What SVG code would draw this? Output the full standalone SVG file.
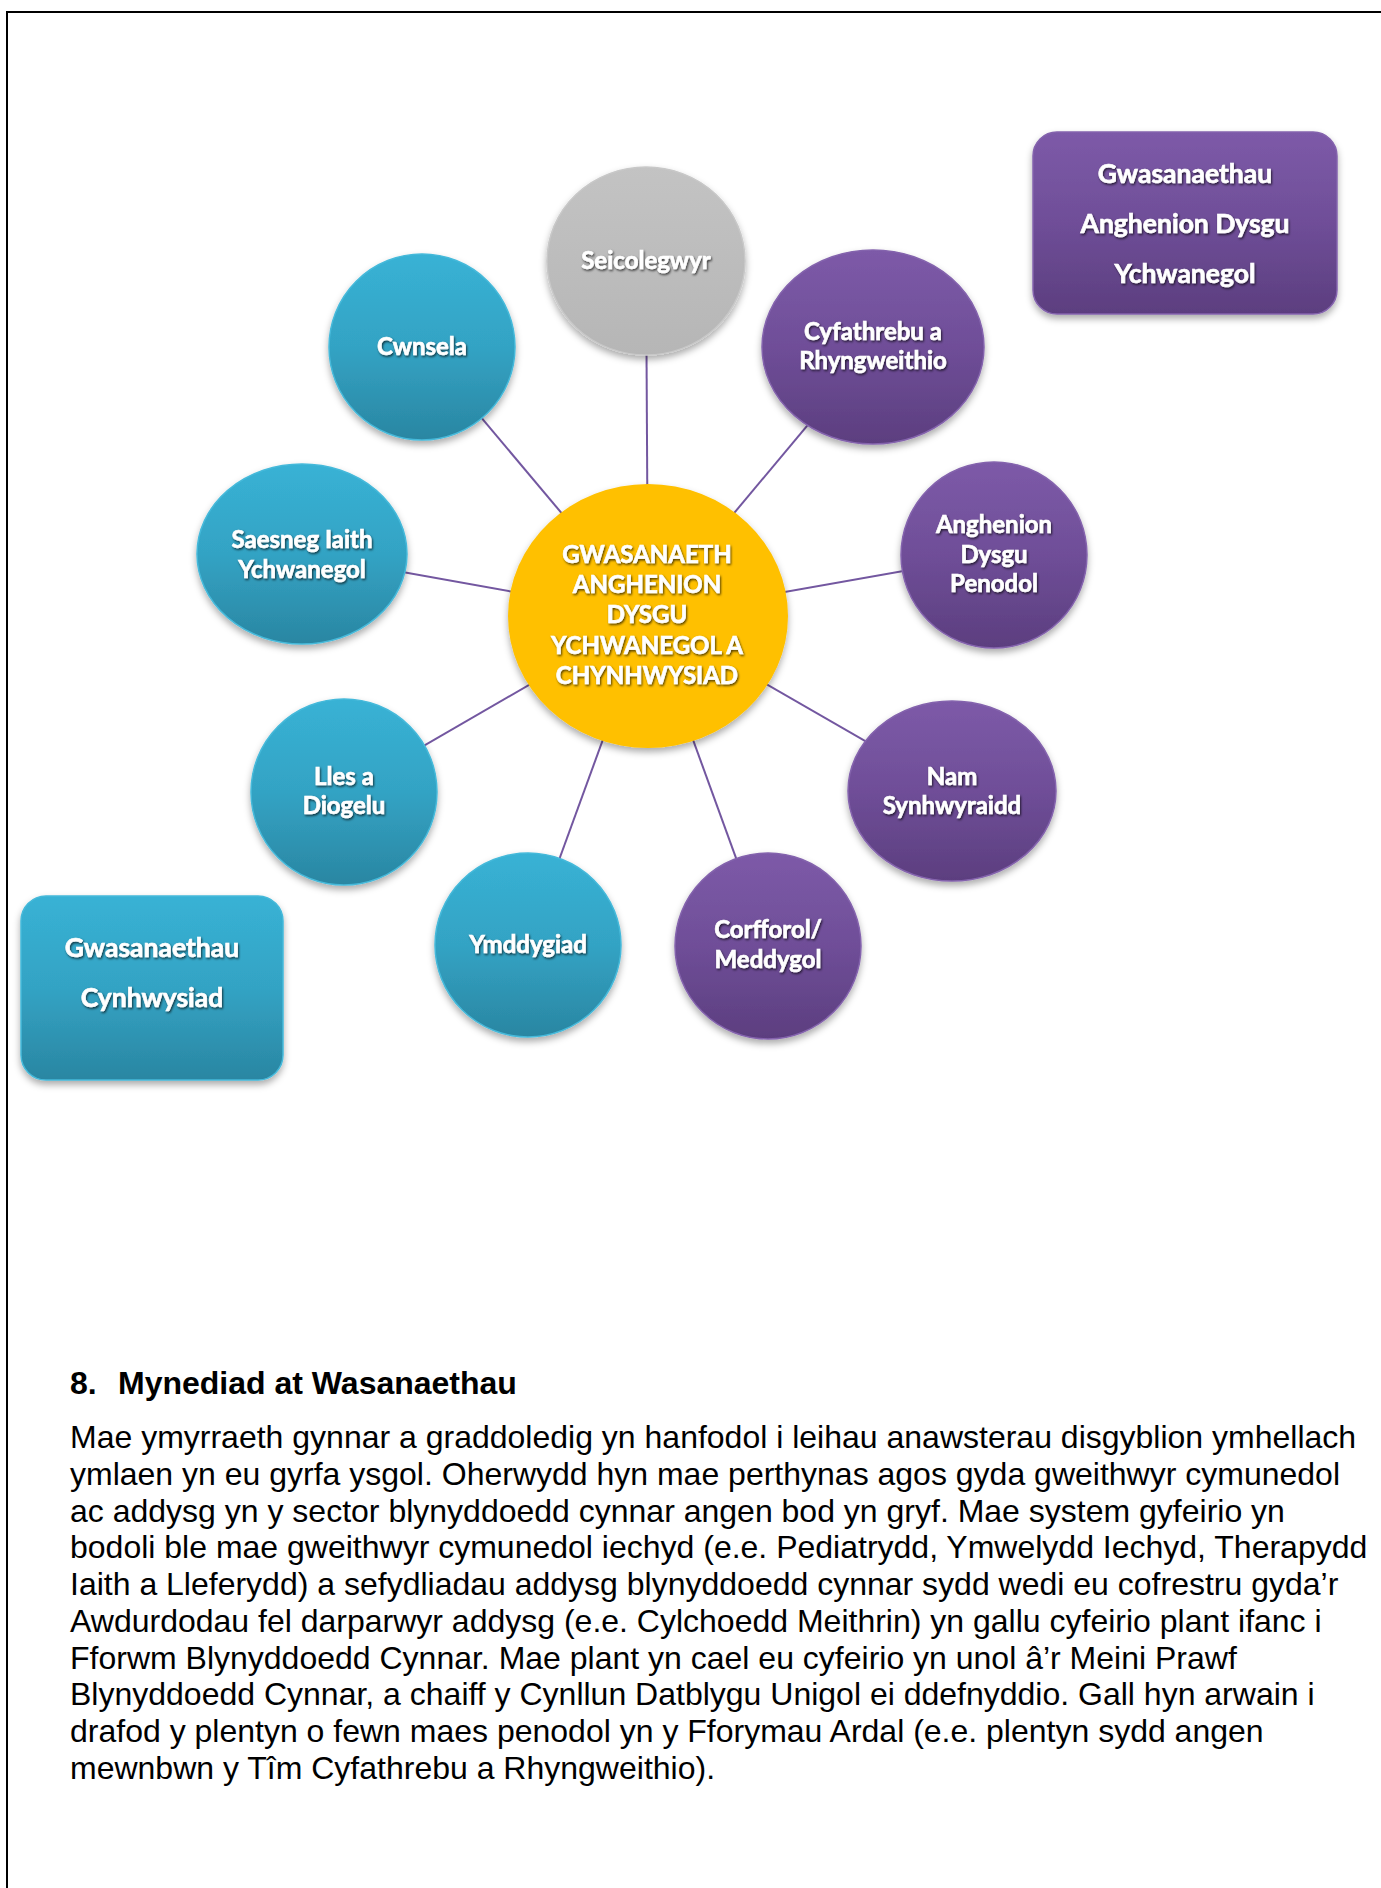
<svg xmlns="http://www.w3.org/2000/svg" width="1381" height="1888" viewBox="0 0 1381 1888">
<defs>
<linearGradient id="gCyan" x1="0" y1="0" x2="0" y2="1">
<stop offset="0" stop-color="#38b2d5"/><stop offset="0.5" stop-color="#33a3c4"/><stop offset="1" stop-color="#2a86a2"/>
</linearGradient>
<linearGradient id="gPurple" x1="0" y1="0" x2="0" y2="1">
<stop offset="0" stop-color="#7d5aa8"/><stop offset="0.5" stop-color="#6f4e98"/><stop offset="1" stop-color="#5c3e7f"/>
</linearGradient>
<linearGradient id="gGray" x1="0" y1="0" x2="0" y2="1">
<stop offset="0" stop-color="#c3c3c3"/><stop offset="1" stop-color="#b6b6b6"/>
</linearGradient>
<filter id="shShape" x="-20%" y="-20%" width="140%" height="150%">
<feDropShadow dx="0" dy="4" stdDeviation="3.5" flood-color="#000" flood-opacity="0.33"/>
</filter>
<filter id="shText" x="-10%" y="-30%" width="120%" height="160%">
<feDropShadow dx="1" dy="1.5" stdDeviation="1" flood-color="#000" flood-opacity="0.7"/>
</filter>
</defs>
<style>
.lbl{font-family:Lato,"Open Sans","DejaVu Sans",sans-serif;font-weight:bold;font-size:24px;fill:#fff;stroke:#fff;stroke-width:0.6;text-anchor:middle;filter:url(#shText)}
.box{font-size:26.5px}
.cyan{fill:url(#gCyan);stroke:#45b9da;stroke-width:1.5;filter:url(#shShape)}
.purple{fill:url(#gPurple);stroke:#8463ad;stroke-width:1.5;filter:url(#shShape)}
.gray{fill:url(#gGray);stroke:#c8c8c8;stroke-width:1.5;filter:url(#shShape)}
.gold{fill:#ffc000;filter:url(#shShape)}
.conn line{stroke:#7357a0;stroke-width:2}
.body{font-family:"Liberation Sans",Arial,sans-serif;font-size:32px;fill:#000}
</style>
<rect width="1381" height="1888" fill="#fff"/>
<g id="page-border" stroke="#000" stroke-width="2" fill="none">
<line x1="7" y1="12" x2="1381" y2="12"/>
<line x1="7" y1="11" x2="7" y2="1888"/>
</g>
<g id="connectors" class="conn">
<line x1="648" y1="616" x2="646" y2="261"/>
<line x1="648" y1="616" x2="422" y2="347"/>
<line x1="648" y1="616" x2="873" y2="347"/>
<line x1="648" y1="616" x2="994" y2="555"/>
<line x1="648" y1="616" x2="302" y2="554"/>
<line x1="648" y1="616" x2="344" y2="792"/>
<line x1="648" y1="616" x2="952" y2="791"/>
<line x1="648" y1="616" x2="528" y2="945"/>
<line x1="648" y1="616" x2="768" y2="946"/>
</g>
<g id="box-anghenion">
<rect class="purple" x="1033" y="132" width="304" height="182" rx="24"/>
<text class="lbl box" x="1185" y="183">Gwasanaethau</text>
<text class="lbl box" x="1185" y="233">Anghenion Dysgu</text>
<text class="lbl box" x="1185" y="283">Ychwanegol</text>
</g>
<g id="box-cynhwysiad">
<rect class="cyan" x="21" y="896" width="262" height="184" rx="25"/>
<text class="lbl box" x="152" y="957">Gwasanaethau</text>
<text class="lbl box" x="152" y="1007">Cynhwysiad</text>
</g>
<g id="node-seicolegwyr">
<ellipse class="gray" cx="646" cy="261" rx="99" ry="94"/>
<text class="lbl" x="646" y="269">Seicolegwyr</text>
</g>
<g id="node-cwnsela">
<ellipse class="cyan" cx="422" cy="347" rx="93" ry="93"/>
<text class="lbl" x="422" y="355">Cwnsela</text>
</g>
<g id="node-cyfathrebu">
<ellipse class="purple" cx="873" cy="347" rx="111" ry="97"/>
<text class="lbl" x="873" y="340">Cyfathrebu a</text>
<text class="lbl" x="873" y="369">Rhyngweithio</text>
</g>
<g id="node-penodol">
<ellipse class="purple" cx="994" cy="555" rx="93" ry="93"/>
<text class="lbl" x="994" y="533">Anghenion</text>
<text class="lbl" x="994" y="563">Dysgu</text>
<text class="lbl" x="994" y="592">Penodol</text>
</g>
<g id="node-saesneg">
<ellipse class="cyan" cx="302" cy="554" rx="105" ry="90"/>
<text class="lbl" x="302" y="548">Saesneg Iaith</text>
<text class="lbl" x="302" y="578">Ychwanegol</text>
</g>
<g id="node-lles">
<ellipse class="cyan" cx="344" cy="792" rx="93" ry="93"/>
<text class="lbl" x="344" y="785">Lles a</text>
<text class="lbl" x="344" y="814">Diogelu</text>
</g>
<g id="node-nam">
<ellipse class="purple" cx="952" cy="791" rx="104" ry="90"/>
<text class="lbl" x="952" y="785">Nam</text>
<text class="lbl" x="952" y="814">Synhwyraidd</text>
</g>
<g id="node-ymddygiad">
<ellipse class="cyan" cx="528" cy="945" rx="93" ry="92"/>
<text class="lbl" x="528" y="953">Ymddygiad</text>
</g>
<g id="node-corfforol">
<ellipse class="purple" cx="768" cy="946" rx="93" ry="93"/>
<text class="lbl" x="768" y="938">Corfforol/</text>
<text class="lbl" x="768" y="968">Meddygol</text>
</g>
<g id="node-center">
<ellipse class="gold" cx="648" cy="616" rx="140" ry="132"/>
<text class="lbl" x="647" y="563">GWASANAETH</text>
<text class="lbl" x="647" y="593">ANGHENION</text>
<text class="lbl" x="647" y="623">DYSGU</text>
<text class="lbl" x="647" y="654">YCHWANEGOL A</text>
<text class="lbl" x="647" y="684">CHYNHWYSIAD</text>
</g>
<g id="section-text" class="body">
<text x="70" y="1394" font-weight="bold">8.</text>
<text x="118" y="1394" font-weight="bold">Mynediad at Wasanaethau</text>
<text x="70" y="1448">Mae ymyrraeth gynnar a graddoledig yn hanfodol i leihau anawsterau disgyblion ymhellach</text>
<text x="70" y="1484.75">ymlaen yn eu gyrfa ysgol. Oherwydd hyn mae perthynas agos gyda gweithwyr cymunedol</text>
<text x="70" y="1521.5">ac addysg yn y sector blynyddoedd cynnar angen bod yn gryf. Mae system gyfeirio yn</text>
<text x="70" y="1558.25">bodoli ble mae gweithwyr cymunedol iechyd (e.e. Pediatrydd, Ymwelydd Iechyd, Therapydd</text>
<text x="70" y="1595">Iaith a Lleferydd) a sefydliadau addysg blynyddoedd cynnar sydd wedi eu cofrestru gyda’r</text>
<text x="70" y="1631.75">Awdurdodau fel darparwyr addysg (e.e. Cylchoedd Meithrin) yn gallu cyfeirio plant ifanc i</text>
<text x="70" y="1668.5">Fforwm Blynyddoedd Cynnar. Mae plant yn cael eu cyfeirio yn unol â’r Meini Prawf</text>
<text x="70" y="1705.25">Blynyddoedd Cynnar, a chaiff y Cynllun Datblygu Unigol ei ddefnyddio. Gall hyn arwain i</text>
<text x="70" y="1742">drafod y plentyn o fewn maes penodol yn y Fforymau Ardal (e.e. plentyn sydd angen</text>
<text x="70" y="1778.75">mewnbwn y Tîm Cyfathrebu a Rhyngweithio).</text>
</g>
</svg>
